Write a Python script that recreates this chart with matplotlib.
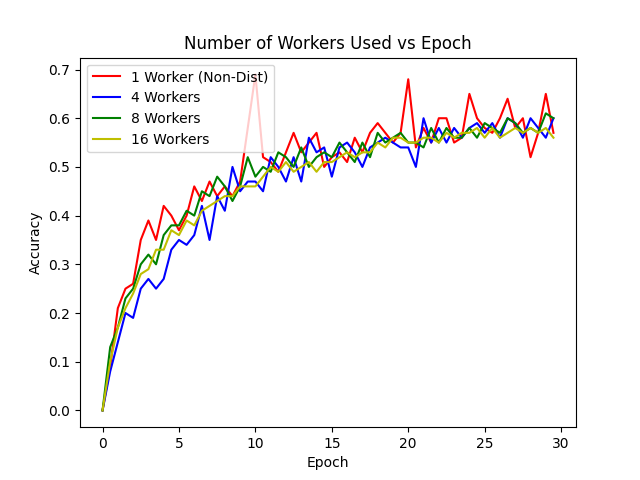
import numpy as np
import matplotlib
matplotlib.use("Agg")
import matplotlib.pyplot as plt

epochs = np.arange(0, 30, 0.5)

acc_1 = [0.00, 0.09, 0.21, 0.25, 0.26, 0.35, 0.39, 0.35, 0.42, 0.40,
         0.37, 0.40, 0.46, 0.43, 0.47, 0.44, 0.46, 0.44, 0.47, 0.58,
         0.69, 0.52, 0.51, 0.49, 0.53, 0.57, 0.53, 0.55, 0.57, 0.50,
         0.52, 0.53, 0.51, 0.56, 0.53, 0.57, 0.59, 0.57, 0.55, 0.57,
         0.68, 0.54, 0.58, 0.55, 0.60, 0.60, 0.55, 0.56, 0.65, 0.60,
         0.58, 0.57, 0.60, 0.64, 0.58, 0.60, 0.52, 0.57, 0.65, 0.57]
acc_4 = [0.00, 0.08, 0.14, 0.20, 0.19, 0.25, 0.27, 0.25, 0.27, 0.33,
         0.35, 0.34, 0.36, 0.42, 0.35, 0.44, 0.41, 0.50, 0.45, 0.47,
         0.47, 0.45, 0.52, 0.50, 0.47, 0.52, 0.47, 0.56, 0.53, 0.54,
         0.48, 0.54, 0.55, 0.53, 0.50, 0.54, 0.55, 0.56, 0.55, 0.54,
         0.54, 0.50, 0.60, 0.55, 0.58, 0.55, 0.58, 0.56, 0.58, 0.59,
         0.57, 0.59, 0.56, 0.60, 0.59, 0.56, 0.60, 0.58, 0.56, 0.60]
acc_8 = [0.00, 0.13, 0.17, 0.23, 0.25, 0.30, 0.32, 0.30, 0.36, 0.38,
         0.38, 0.41, 0.40, 0.45, 0.44, 0.48, 0.46, 0.43, 0.46, 0.52,
         0.48, 0.50, 0.49, 0.53, 0.52, 0.50, 0.54, 0.50, 0.52, 0.53,
         0.52, 0.55, 0.53, 0.51, 0.55, 0.52, 0.57, 0.55, 0.56, 0.57,
         0.55, 0.55, 0.54, 0.58, 0.55, 0.58, 0.56, 0.56, 0.58, 0.56,
         0.59, 0.58, 0.57, 0.60, 0.59, 0.57, 0.58, 0.57, 0.61, 0.60]
acc_16 = [0.00, 0.10, 0.17, 0.21, 0.24, 0.28, 0.29, 0.33, 0.33, 0.37,
          0.36, 0.39, 0.38, 0.41, 0.42, 0.43, 0.44, 0.44, 0.46, 0.46,
          0.46, 0.48, 0.50, 0.49, 0.51, 0.49, 0.50, 0.51, 0.49, 0.51,
          0.51, 0.52, 0.53, 0.52, 0.53, 0.53, 0.55, 0.54, 0.56, 0.56,
          0.55, 0.55, 0.56, 0.56, 0.55, 0.57, 0.56, 0.57, 0.57, 0.58,
          0.56, 0.58, 0.56, 0.57, 0.58, 0.57, 0.58, 0.57, 0.58, 0.56]

plt.figure(figsize=(6.4, 4.8), dpi=100)
plt.plot(epochs, acc_1, "r", label="1 Worker (Non-Dist)")
plt.plot(epochs, acc_4, "b", label="4 Workers")
plt.plot(epochs, acc_8, "g", label="8 Workers")
plt.plot(epochs, acc_16, "y", label="16 Workers")
plt.title("Number of Workers Used vs Epoch")
plt.xlabel("Epoch")
plt.ylabel("Accuracy")
plt.legend(loc="upper left")
plt.savefig("out.png", dpi=100)
plt.close()
